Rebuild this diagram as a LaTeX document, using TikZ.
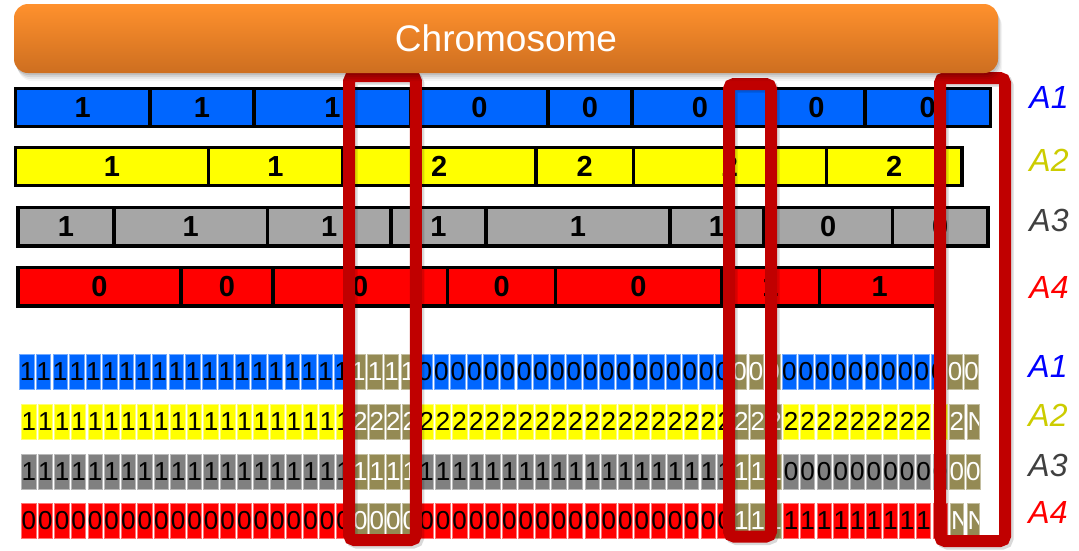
\documentclass[tikz,border=0pt]{standalone}
\usepackage{fontspec}
\setmainfont{Liberation Sans}

\definecolor{barblue}{RGB}{0,102,255}
\definecolor{baryellow}{RGB}{255,255,0}
\definecolor{bargray}{RGB}{166,166,166}
\definecolor{barred}{RGB}{255,0,0}
\definecolor{cellgray}{RGB}{128,128,128}
\definecolor{olivecell}{RGB}{148,138,84}
\definecolor{hlred}{RGB}{192,0,0}
\definecolor{chromtop}{RGB}{255,145,45}
\definecolor{chrombot}{RGB}{205,110,32}
\definecolor{tagA1}{RGB}{0,0,255}
\definecolor{tagA2}{RGB}{204,204,0}
\definecolor{tagA3}{RGB}{64,64,64}
\definecolor{tagA4}{RGB}{255,0,0}

% a run of small gene cells: row name, y centre, left x of cell 0, cell width,
% first index, last index, fill, text colour, text
\newcommand\cellrun[9]{%
  \foreach \i in {#5,...,#6}{%
    \node[cellbox, fill=#7, draw=#7!55!white, text=#8, minimum width=#4pt]
      (#1c\i) at ({#3+16.57*\i+#4/2},#2) {#9};}}
% a single olive cell whose wide letter is cut at the cell edge
\newcommand\ncell[4]{%
  \node[cellbox, fill=olivecell, draw=olivecell!55!white, minimum width=#4pt,
    path picture={\node[anchor=west, inner sep=0pt, text=white,
      font=\fontsize{26}{26}\selectfont] at (path picture bounding box.west) {N};}]
    (#1) at (#2,#3) {};}

\begin{document}
\begin{tikzpicture}[x=1pt,y=-1pt,
  segbox/.style={draw=black, line width=3.4pt, rectangle, inner sep=0pt,
    minimum height=38.5pt, font=\fontsize{29}{29}\selectfont\bfseries},
  cellbox/.style={rectangle, inner sep=0pt, minimum height=35pt, line width=0.8pt,
    font=\fontsize{26}{26}\selectfont},
  hlbox/.style={draw=hlred, line width=12pt, rounded corners=5pt},
  hlshadow/.style={draw=black, opacity=0.15, line width=12pt, rounded corners=5pt},
  tag/.style={font=\fontsize{32}{32}\selectfont\itshape, inner sep=0pt},
]
\useasboundingbox (0,0) rectangle (1079,550);

% ---- segment bars ----
\foreach \a/\b/\t [count=\k] in {15.5/150/1,150/254/1,254/411/1,411/548/0,548/632/0,632/768/0,768/865/0,865/990.5/0}
  \node[segbox, fill=barblue, minimum width={(\b-\a)*1pt}] (barA1s\k) at ({(\a+\b)/2},107.5) {\t};
\foreach \a/\b/\t [count=\k] in {15.5/208.3/1,208.3/342.6/1,342.6/536/2,536/633.4/2,633.4/826.6/2,826.6/962/2}
  \node[segbox, fill=baryellow, minimum width={(\b-\a)*1pt}] (barA2s\k) at ({(\a+\b)/2},166.5) {\t};
\foreach \a/\b/\t [count=\k] in {18/114/1,114/267.5/1,267.5/391/1,391/486/1,486/670/1,670/764/1,764/892.5/0,892.5/988/0}
  \node[segbox, fill=bargray, minimum width={(\b-\a)*1pt}] (barA3s\k) at ({(\a+\b)/2},226.6) {\t};
\foreach \a/\b/\t [count=\k] in {18/181/0,181/273/0,273/447.6/0,447.6/555.6/0,555.6/721.4/0,721.4/819.5/1,819.5/940/1}
  \node[segbox, fill=barred, minimum width={(\b-\a)*1pt}] (barA4s\k) at ({(\a+\b)/2},286.6) {\t};

% ---- gene cells ----
\cellrun{lowA1}{371.6}{20.7}{12.7}{0}{19}{barblue}{black}{1}
\cellrun{lowA1}{371.6}{20.7}{12.7}{20}{23}{olivecell}{white}{1}
\cellrun{lowA1}{371.6}{20.7}{12.7}{24}{42}{barblue}{black}{0}
\cellrun{lowA1}{371.6}{20.7}{12.7}{43}{45}{olivecell}{white}{0}
\cellrun{lowA1}{371.6}{20.7}{12.7}{46}{55}{barblue}{black}{0}
\cellrun{lowA1}{371.6}{20.7}{12.7}{56}{57}{olivecell}{white}{0}

\cellrun{lowA2}{421.7}{22.7}{12.3}{0}{19}{baryellow}{black}{1}
\cellrun{lowA2}{421.7}{22.7}{12.3}{20}{23}{olivecell}{white}{2}
\cellrun{lowA2}{421.7}{22.7}{12.3}{24}{42}{baryellow}{black}{2}
\cellrun{lowA2}{421.7}{22.7}{12.3}{43}{45}{olivecell}{white}{2}
\cellrun{lowA2}{421.7}{22.7}{12.3}{46}{55}{baryellow}{black}{2}
\cellrun{lowA2}{421.7}{22.7}{12.3}{56}{56}{olivecell}{white}{2}
\ncell{lowA2c57}{{22.7+16.57*57+6.15}}{421.7}{12.3}

\cellrun{lowA3}{471.5}{22.7}{12.3}{0}{19}{cellgray}{black}{1}
\cellrun{lowA3}{471.5}{22.7}{12.3}{20}{23}{olivecell}{white}{1}
\cellrun{lowA3}{471.5}{22.7}{12.3}{24}{42}{cellgray}{black}{1}
\cellrun{lowA3}{471.5}{22.7}{12.3}{43}{45}{olivecell}{white}{1}
\cellrun{lowA3}{471.5}{22.7}{12.3}{46}{55}{cellgray}{black}{0}
\cellrun{lowA3}{471.5}{22.7}{12.3}{56}{57}{olivecell}{white}{0}

\cellrun{lowA4}{520.8}{22.7}{12.3}{0}{19}{barred}{black}{0}
\cellrun{lowA4}{520.8}{22.7}{12.3}{20}{23}{olivecell}{white}{0}
\cellrun{lowA4}{520.8}{22.7}{12.3}{24}{42}{barred}{black}{0}
\cellrun{lowA4}{520.8}{22.7}{12.3}{43}{45}{olivecell}{white}{1}
\cellrun{lowA4}{520.8}{22.7}{12.3}{46}{55}{barred}{black}{1}
\ncell{lowA4c56}{{22.7+16.57*56+6.15}}{520.8}{12.3}
\ncell{lowA4c57}{{22.7+16.57*57+6.15}}{520.8}{12.3}

% ---- row tags ----
\node[tag, text=tagA1] (tagTopA1) at (1049,97) {A1};
\node[tag, text=tagA2] (tagTopA2) at (1049,160) {A2};
\node[tag, text=tagA3] (tagTopA3) at (1049,220) {A3};
\node[tag, text=tagA4] (tagTopA4) at (1049,287) {A4};
\node[tag, text=tagA1] (tagLowA1) at (1048,366) {A1};
\node[tag, text=tagA2] (tagLowA2) at (1048,415) {A2};
\node[tag, text=tagA3] (tagLowA3) at (1048,465) {A3};
\node[tag, text=tagA4] (tagLowA4) at (1048,512.5) {A4};

% ---- highlight frames ----
\draw[hlshadow] (351.7,78.5) rectangle (418.3,542.5);
\draw[hlshadow] (731.5,86.5) rectangle (773.5,539);
\draw[hlshadow] (942.5,80.5) rectangle (1007.5,543.5);
\draw[hlbox] (349.2,76) rectangle (415.8,540);
\draw[hlbox] (729,84) rectangle (771,536.5);
\draw[hlbox] (940,78) rectangle (1005,541);

% ---- chromosome header ----
\foreach \s/\o in {2/0.10,4/0.08,6/0.06,8/0.04}
  \fill[black, opacity=\o, rounded corners=14pt] (14+\s/2,4+\s) rectangle (998+\s/2,73+\s);
\node[rectangle, rounded corners=14pt, top color=chromtop, bottom color=chrombot,
  minimum width=984pt, minimum height=69pt, inner sep=0pt, text=white,
  font=\fontsize{37}{37}\selectfont] (chrom) at (506,38.5) {Chromosome};
\end{tikzpicture}
\end{document}
